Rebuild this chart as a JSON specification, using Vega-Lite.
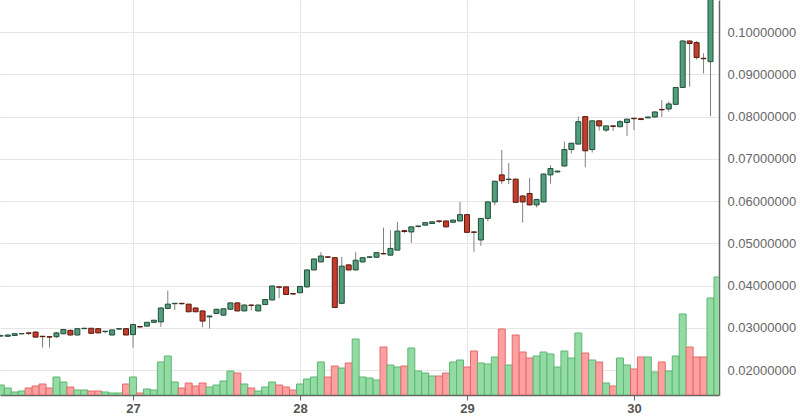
{
  "$schema": "https://vega.github.io/schema/vega-lite/v6.json",
  "width": 719,
  "height": 395,
  "padding": {"left": 0, "top": 0, "right": 81, "bottom": 23},
  "autosize": {"type": "none"},
  "background": "white",
  "config": {"view": {"stroke": null}, "font": "Liberation Sans"},
  "data": {"values": [
    {"t":"2017-11-26T05:00:00Z","o":0.0281,"h":0.0284,"l":0.0278,"c":0.0281,"v":10},
    {"t":"2017-11-26T06:00:00Z","o":0.0280,"h":0.0284,"l":0.0279,"c":0.0283,"v":7},
    {"t":"2017-11-26T07:00:00Z","o":0.0282,"h":0.0287,"l":0.0281,"c":0.0286,"v":3},
    {"t":"2017-11-26T08:00:00Z","o":0.0286,"h":0.0287,"l":0.0285,"c":0.0286,"v":4},
    {"t":"2017-11-26T09:00:00Z","o":0.0288,"h":0.0289,"l":0.0283,"c":0.0287,"v":7},
    {"t":"2017-11-26T10:00:00Z","o":0.0290,"h":0.0291,"l":0.0277,"c":0.0278,"v":9},
    {"t":"2017-11-26T11:00:00Z","o":0.0280,"h":0.0281,"l":0.0253,"c":0.0279,"v":11},
    {"t":"2017-11-26T12:00:00Z","o":0.0279,"h":0.0280,"l":0.0253,"c":0.0278,"v":7},
    {"t":"2017-11-26T13:00:00Z","o":0.0279,"h":0.0290,"l":0.0276,"c":0.0288,"v":18},
    {"t":"2017-11-26T14:00:00Z","o":0.0286,"h":0.0297,"l":0.0285,"c":0.0296,"v":13},
    {"t":"2017-11-26T15:00:00Z","o":0.0294,"h":0.0296,"l":0.0282,"c":0.0283,"v":8},
    {"t":"2017-11-26T16:00:00Z","o":0.0283,"h":0.0300,"l":0.0282,"c":0.0298,"v":5},
    {"t":"2017-11-26T17:00:00Z","o":0.0298,"h":0.0300,"l":0.0297,"c":0.0299,"v":5},
    {"t":"2017-11-26T18:00:00Z","o":0.0299,"h":0.0300,"l":0.0286,"c":0.0287,"v":4},
    {"t":"2017-11-26T19:00:00Z","o":0.0298,"h":0.0299,"l":0.0287,"c":0.0288,"v":4},
    {"t":"2017-11-26T20:00:00Z","o":0.0291,"h":0.0292,"l":0.0287,"c":0.0292,"v":3},
    {"t":"2017-11-26T21:00:00Z","o":0.0283,"h":0.0296,"l":0.0282,"c":0.0295,"v":2},
    {"t":"2017-11-26T22:00:00Z","o":0.0297,"h":0.0299,"l":0.0296,"c":0.0298,"v":2},
    {"t":"2017-11-26T23:00:00Z","o":0.0298,"h":0.0299,"l":0.0282,"c":0.0283,"v":11},
    {"t":"2017-11-27T00:00:00Z","o":0.0284,"h":0.0309,"l":0.0253,"c":0.0308,"v":18},
    {"t":"2017-11-27T01:00:00Z","o":0.0303,"h":0.0304,"l":0.0301,"c":0.0302,"v":2},
    {"t":"2017-11-27T02:00:00Z","o":0.0304,"h":0.0314,"l":0.0303,"c":0.0313,"v":6},
    {"t":"2017-11-27T03:00:00Z","o":0.0313,"h":0.0319,"l":0.0312,"c":0.0318,"v":5},
    {"t":"2017-11-27T04:00:00Z","o":0.0314,"h":0.0349,"l":0.0302,"c":0.0347,"v":33},
    {"t":"2017-11-27T05:00:00Z","o":0.0346,"h":0.0388,"l":0.0344,"c":0.0356,"v":39},
    {"t":"2017-11-27T06:00:00Z","o":0.0357,"h":0.0359,"l":0.0342,"c":0.0358,"v":13},
    {"t":"2017-11-27T07:00:00Z","o":0.0358,"h":0.0359,"l":0.0355,"c":0.0357,"v":7},
    {"t":"2017-11-27T08:00:00Z","o":0.0356,"h":0.0357,"l":0.0337,"c":0.0338,"v":12},
    {"t":"2017-11-27T09:00:00Z","o":0.0347,"h":0.0348,"l":0.0337,"c":0.0338,"v":9},
    {"t":"2017-11-27T10:00:00Z","o":0.0340,"h":0.0341,"l":0.0301,"c":0.0316,"v":12},
    {"t":"2017-11-27T11:00:00Z","o":0.0326,"h":0.0329,"l":0.0298,"c":0.0328,"v":8},
    {"t":"2017-11-27T12:00:00Z","o":0.0334,"h":0.0345,"l":0.0333,"c":0.0344,"v":10},
    {"t":"2017-11-27T13:00:00Z","o":0.0330,"h":0.0346,"l":0.0329,"c":0.0345,"v":14},
    {"t":"2017-11-27T14:00:00Z","o":0.0344,"h":0.0360,"l":0.0343,"c":0.0359,"v":24},
    {"t":"2017-11-27T15:00:00Z","o":0.0359,"h":0.0360,"l":0.0339,"c":0.0340,"v":22},
    {"t":"2017-11-27T16:00:00Z","o":0.0340,"h":0.0355,"l":0.0339,"c":0.0354,"v":11},
    {"t":"2017-11-27T17:00:00Z","o":0.0354,"h":0.0355,"l":0.0341,"c":0.0353,"v":7},
    {"t":"2017-11-27T18:00:00Z","o":0.0340,"h":0.0355,"l":0.0339,"c":0.0354,"v":4},
    {"t":"2017-11-27T19:00:00Z","o":0.0355,"h":0.0368,"l":0.0354,"c":0.0367,"v":8},
    {"t":"2017-11-27T20:00:00Z","o":0.0366,"h":0.0400,"l":0.0365,"c":0.0399,"v":13},
    {"t":"2017-11-27T21:00:00Z","o":0.0397,"h":0.0398,"l":0.0370,"c":0.0396,"v":10},
    {"t":"2017-11-27T22:00:00Z","o":0.0397,"h":0.0398,"l":0.0378,"c":0.0379,"v":8},
    {"t":"2017-11-27T23:00:00Z","o":0.0381,"h":0.0382,"l":0.0379,"c":0.0380,"v":5},
    {"t":"2017-11-28T00:00:00Z","o":0.0383,"h":0.0399,"l":0.0382,"c":0.0398,"v":11},
    {"t":"2017-11-28T01:00:00Z","o":0.0397,"h":0.0438,"l":0.0394,"c":0.0437,"v":16},
    {"t":"2017-11-28T02:00:00Z","o":0.0437,"h":0.0464,"l":0.0436,"c":0.0463,"v":18},
    {"t":"2017-11-28T03:00:00Z","o":0.0456,"h":0.0479,"l":0.0455,"c":0.0470,"v":33},
    {"t":"2017-11-28T04:00:00Z","o":0.0468,"h":0.0469,"l":0.0466,"c":0.0467,"v":18},
    {"t":"2017-11-28T05:00:00Z","o":0.0466,"h":0.0467,"l":0.0347,"c":0.0348,"v":29},
    {"t":"2017-11-28T06:00:00Z","o":0.0358,"h":0.0468,"l":0.0356,"c":0.0446,"v":27},
    {"t":"2017-11-28T07:00:00Z","o":0.0449,"h":0.0450,"l":0.0436,"c":0.0437,"v":32},
    {"t":"2017-11-28T08:00:00Z","o":0.0437,"h":0.0479,"l":0.0436,"c":0.0460,"v":56},
    {"t":"2017-11-28T09:00:00Z","o":0.0456,"h":0.0467,"l":0.0455,"c":0.0466,"v":18},
    {"t":"2017-11-28T10:00:00Z","o":0.0467,"h":0.0469,"l":0.0466,"c":0.0468,"v":17},
    {"t":"2017-11-28T11:00:00Z","o":0.0467,"h":0.0479,"l":0.0466,"c":0.0478,"v":15},
    {"t":"2017-11-28T12:00:00Z","o":0.0476,"h":0.0537,"l":0.0474,"c":0.0475,"v":48},
    {"t":"2017-11-28T13:00:00Z","o":0.0472,"h":0.0531,"l":0.0471,"c":0.0488,"v":30},
    {"t":"2017-11-28T14:00:00Z","o":0.0484,"h":0.0551,"l":0.0483,"c":0.0529,"v":28},
    {"t":"2017-11-28T15:00:00Z","o":0.0530,"h":0.0531,"l":0.0524,"c":0.0528,"v":29},
    {"t":"2017-11-28T16:00:00Z","o":0.0527,"h":0.0540,"l":0.0501,"c":0.0539,"v":47},
    {"t":"2017-11-28T17:00:00Z","o":0.0540,"h":0.0542,"l":0.0537,"c":0.0541,"v":24},
    {"t":"2017-11-28T18:00:00Z","o":0.0543,"h":0.0550,"l":0.0542,"c":0.0549,"v":22},
    {"t":"2017-11-28T19:00:00Z","o":0.0547,"h":0.0552,"l":0.0546,"c":0.0551,"v":19},
    {"t":"2017-11-28T20:00:00Z","o":0.0553,"h":0.0554,"l":0.0548,"c":0.0552,"v":19},
    {"t":"2017-11-28T21:00:00Z","o":0.0553,"h":0.0554,"l":0.0538,"c":0.0539,"v":22},
    {"t":"2017-11-28T22:00:00Z","o":0.0550,"h":0.0556,"l":0.0549,"c":0.0555,"v":33},
    {"t":"2017-11-28T23:00:00Z","o":0.0553,"h":0.0598,"l":0.0552,"c":0.0568,"v":35},
    {"t":"2017-11-29T00:00:00Z","o":0.0568,"h":0.0569,"l":0.0525,"c":0.0526,"v":28},
    {"t":"2017-11-29T01:00:00Z","o":0.0527,"h":0.0528,"l":0.0480,"c":0.0526,"v":44},
    {"t":"2017-11-29T02:00:00Z","o":0.0508,"h":0.0560,"l":0.0494,"c":0.0559,"v":32},
    {"t":"2017-11-29T03:00:00Z","o":0.0559,"h":0.0599,"l":0.0552,"c":0.0598,"v":31},
    {"t":"2017-11-29T04:00:00Z","o":0.0598,"h":0.0648,"l":0.0590,"c":0.0647,"v":38},
    {"t":"2017-11-29T05:00:00Z","o":0.0662,"h":0.0721,"l":0.0640,"c":0.0648,"v":66},
    {"t":"2017-11-29T06:00:00Z","o":0.0651,"h":0.0690,"l":0.0640,"c":0.0652,"v":30},
    {"t":"2017-11-29T07:00:00Z","o":0.0652,"h":0.0653,"l":0.0596,"c":0.0597,"v":60},
    {"t":"2017-11-29T08:00:00Z","o":0.0612,"h":0.0615,"l":0.0549,"c":0.0598,"v":43},
    {"t":"2017-11-29T09:00:00Z","o":0.0618,"h":0.0655,"l":0.0590,"c":0.0591,"v":37},
    {"t":"2017-11-29T10:00:00Z","o":0.0591,"h":0.0605,"l":0.0585,"c":0.0604,"v":39},
    {"t":"2017-11-29T11:00:00Z","o":0.0598,"h":0.0665,"l":0.0597,"c":0.0664,"v":43},
    {"t":"2017-11-29T12:00:00Z","o":0.0662,"h":0.0685,"l":0.0641,"c":0.0677,"v":41},
    {"t":"2017-11-29T13:00:00Z","o":0.0669,"h":0.0672,"l":0.0668,"c":0.0671,"v":28},
    {"t":"2017-11-29T14:00:00Z","o":0.0683,"h":0.0741,"l":0.0682,"c":0.0722,"v":44},
    {"t":"2017-11-29T15:00:00Z","o":0.0722,"h":0.0738,"l":0.0713,"c":0.0737,"v":37},
    {"t":"2017-11-29T16:00:00Z","o":0.0735,"h":0.0800,"l":0.0734,"c":0.0788,"v":62},
    {"t":"2017-11-29T17:00:00Z","o":0.0800,"h":0.0801,"l":0.0680,"c":0.0719,"v":42},
    {"t":"2017-11-29T18:00:00Z","o":0.0722,"h":0.0791,"l":0.0715,"c":0.0790,"v":35},
    {"t":"2017-11-29T19:00:00Z","o":0.0790,"h":0.0791,"l":0.0767,"c":0.0778,"v":33},
    {"t":"2017-11-29T20:00:00Z","o":0.0768,"h":0.0779,"l":0.0764,"c":0.0778,"v":12},
    {"t":"2017-11-29T21:00:00Z","o":0.0778,"h":0.0779,"l":0.0766,"c":0.0777,"v":9},
    {"t":"2017-11-29T22:00:00Z","o":0.0776,"h":0.0792,"l":0.0775,"c":0.0788,"v":37},
    {"t":"2017-11-29T23:00:00Z","o":0.0786,"h":0.0795,"l":0.0754,"c":0.0794,"v":30},
    {"t":"2017-11-30T00:00:00Z","o":0.0796,"h":0.0797,"l":0.0768,"c":0.0795,"v":26},
    {"t":"2017-11-30T01:00:00Z","o":0.0795,"h":0.0796,"l":0.0792,"c":0.0793,"v":38},
    {"t":"2017-11-30T02:00:00Z","o":0.0797,"h":0.0800,"l":0.0796,"c":0.0799,"v":38},
    {"t":"2017-11-30T03:00:00Z","o":0.0799,"h":0.0812,"l":0.0798,"c":0.0811,"v":23},
    {"t":"2017-11-30T04:00:00Z","o":0.0817,"h":0.0839,"l":0.0799,"c":0.0816,"v":33},
    {"t":"2017-11-30T05:00:00Z","o":0.0818,"h":0.0836,"l":0.0812,"c":0.0830,"v":24},
    {"t":"2017-11-30T06:00:00Z","o":0.0829,"h":0.0870,"l":0.0828,"c":0.0869,"v":39},
    {"t":"2017-11-30T07:00:00Z","o":0.0869,"h":0.0980,"l":0.0868,"c":0.0979,"v":81},
    {"t":"2017-11-30T08:00:00Z","o":0.0979,"h":0.0980,"l":0.0871,"c":0.0973,"v":48},
    {"t":"2017-11-30T09:00:00Z","o":0.0975,"h":0.0979,"l":0.0935,"c":0.0940,"v":38},
    {"t":"2017-11-30T10:00:00Z","o":0.0938,"h":0.0950,"l":0.0902,"c":0.0937,"v":38},
    {"t":"2017-11-30T11:00:00Z","o":0.0930,"h":0.1110,"l":0.0801,"c":0.1090,"v":97},
    {"t":"2017-11-30T12:00:00Z","o":0.1090,"h":0.1150,"l":0.1080,"c":0.1130,"v":118}
  ]},
  "encoding": {
    "x": {
      "field": "t",
      "type": "temporal",
      "scale": {
        "type": "utc",
        "padding": 0,
        "domain": [
          {"year": 2017, "month": 11, "date": 26, "hours": 4, "minutes": 53, "seconds": 6, "utc": true},
          {"year": 2017, "month": 11, "date": 30, "hours": 12, "minutes": 13, "seconds": 12, "utc": true}
        ]
      },
      "axis": {
        "title": null,
        "values": [
          {"year": 2017, "month": 11, "date": 27, "utc": true},
          {"year": 2017, "month": 11, "date": 28, "utc": true},
          {"year": 2017, "month": 11, "date": 29, "utc": true},
          {"year": 2017, "month": 11, "date": 30, "utc": true}
        ],
        "labelExpr": "utcFormat(datum.value, '%d')",
        "grid": true,
        "gridColor": "#e6e6e6",
        "domainColor": "#666666",
        "domainWidth": 1.5,
        "tickColor": "#666666",
        "tickSize": 5,
        "labelFont": "Liberation Sans",
        "labelFontSize": 13,
        "labelFontWeight": "bold",
        "labelColor": "#555555",
        "labelPadding": 2
      }
    }
  },
  "layer": [
    {
      "mark": {"type": "bar", "width": 6.96, "clip": true, "strokeWidth": 1},
      "encoding": {
        "y": {"field": "v", "type": "quantitative", "scale": {"domain": [0, 395], "nice": false}, "axis": null},
        "fill": {"condition": {"test": "datum.c >= datum.o", "value": "#92dca3"}, "value": "#ffa0a0"},
        "stroke": {"condition": {"test": "datum.c >= datum.o", "value": "#5fb574"}, "value": "#e06a6a"}
      }
    },
    {
      "layer": [
        {
          "mark": {"type": "rule", "clip": true, "color": "#808080", "strokeWidth": 1},
          "encoding": {
            "y": {
              "field": "l",
              "type": "quantitative",
              "scale": {"domain": [0.0141, 0.1076], "nice": false, "zero": false},
              "axis": {
                "orient": "right",
                "title": null,
                "values": [0.02, 0.03, 0.04, 0.05, 0.06, 0.07, 0.08, 0.09, 0.10],
                "format": ".8f",
                "grid": true,
                "gridColor": "#e6e6e6",
                "domainColor": "#666666",
                "domainWidth": 1.5,
                "ticks": false,
                "labelPadding": 8,
                "labelFont": "Liberation Sans",
                "labelFontSize": 13,
                "labelColor": "#666666"
              }
            },
            "y2": {"field": "h"}
          }
        },
        {
          "mark": {"type": "bar", "width": 5, "clip": true, "strokeWidth": 1},
          "encoding": {
            "y": {"field": "o", "type": "quantitative"},
            "y2": {"field": "c"},
            "fill": {"condition": {"test": "datum.c >= datum.o", "value": "#4f9e7c"}, "value": "#c43c2c"},
            "stroke": {"condition": {"test": "datum.c >= datum.o", "value": "#234d39"}, "value": "#5a1a10"}
          }
        }
      ]
    }
  ],
  "resolve": {"scale": {"y": "independent"}}
}
